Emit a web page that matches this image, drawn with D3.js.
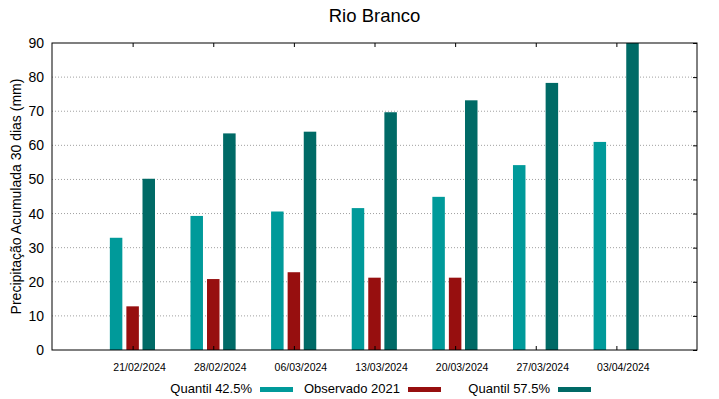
<!DOCTYPE html>
<html>
<head>
<meta charset="utf-8">
<script src="https://cdn.jsdelivr.net/npm/d3@7"></script>
<style>
  body { margin: 0; background: #fff; }
  text { font-family: "Liberation Sans", Arial, sans-serif; fill: #000; }
</style>
</head>
<body>
<svg id="chart" width="719" height="399"></svg>
<script>
const dates = ['21/02/2024', '28/02/2024', '06/03/2024', '13/03/2024', '20/03/2024', '27/03/2024', '03/04/2024'];
const quantil425 = [32.9, 39.3, 40.6, 41.6, 44.9, 54.2, 61.0];
const observado2021 = [12.8, 20.8, 22.8, 21.2, 21.2, null, null];
const quantil575 = [50.2, 63.5, 64.0, 69.7, 73.2, 78.3, 90.0];
const yTicks = [0, 10, 20, 30, 40, 50, 60, 70, 80, 90];

const width = 719;
const height = 399;
const margin = { top: 43, right: 22, bottom: 49, left: 52 };

const svg = d3.select('#chart');

const x = d3.scaleLinear()
  .domain([0, dates.length + 1])
  .range([margin.left, width - margin.right]);

const y = d3.scaleLinear()
  .domain([0, 90])
  .range([height - margin.bottom, margin.top]);

const series = [
  { name: 'Quantil 42.5%', values: quantil425, color: '#009a9a', offset: -0.205 },
  { name: 'Observado 2021', values: observado2021, color: '#970f0f', offset: 0 },
  { name: 'Quantil 57.5%', values: quantil575, color: '#006a66', offset: 0.2 }
];
const barW = 0.155;

// grid
svg.append('g')
  .selectAll('line')
  .data(yTicks.filter(d => d > 0 && d < 90))
  .join('line')
  .attr('x1', x(0))
  .attr('x2', x(dates.length + 1))
  .attr('y1', d => y(d))
  .attr('y2', d => y(d))
  .attr('stroke', '#a0a0a0')
  .attr('stroke-width', 1)
  .attr('stroke-dasharray', '1,2');

// bars
series.forEach(s => {
  svg.append('g')
    .selectAll('rect')
    .data(s.values.map((v, i) => ({ v, i })).filter(d => d.v !== null))
    .join('rect')
    .attr('x', d => x(d.i + 1 + s.offset - barW / 2))
    .attr('width', x(barW) - x(0))
    .attr('y', d => y(d.v))
    .attr('height', d => y(0) - y(d.v))
    .attr('fill', s.color);
});

// axes with inward ticks
svg.append('g')
  .attr('transform', `translate(${margin.left},0)`)
  .call(d3.axisLeft(y).tickValues(yTicks).tickSize(0).tickPadding(8))
  .call(g => g.select('.domain').remove())
  .call(g => g.selectAll('text').attr('font-size', 14).attr('font-family', '"Liberation Sans", Arial, sans-serif'));

svg.append('g')
  .attr('transform', `translate(${width - margin.right},0)`)
  .call(d3.axisRight(y).tickValues(yTicks).tickSize(-4).tickFormat(''))
  .call(g => g.select('.domain').remove());

svg.append('g')
  .attr('transform', `translate(0,${margin.top})`)
  .call(d3.axisTop(x).tickValues(d3.range(1, dates.length + 1)).tickSize(-4).tickFormat(''))
  .call(g => g.select('.domain').remove());

svg.append('g')
  .attr('transform', `translate(0,${height - margin.bottom})`)
  .call(d3.axisBottom(x).tickValues(d3.range(1, dates.length + 1)).tickSize(-4).tickFormat(''))
  .call(g => g.select('.domain').remove());

// x labels (shifted right like the original)
svg.append('g')
  .selectAll('text')
  .data(dates)
  .join('text')
  .attr('x', (d, i) => x(i + 1) + 7)
  .attr('y', height - margin.bottom + 21)
  .attr('text-anchor', 'middle')
  .attr('font-size', 10.5)
  .text(d => d);

// frame
svg.append('rect')
  .attr('x', x(0))
  .attr('y', y(90))
  .attr('width', x(dates.length + 1) - x(0))
  .attr('height', y(0) - y(90))
  .attr('fill', 'none')
  .attr('stroke', '#000')
  .attr('stroke-width', 1);

// title
svg.append('text')
  .attr('x', (x(0) + x(dates.length + 1)) / 2)
  .attr('y', 22)
  .attr('text-anchor', 'middle')
  .attr('font-size', 18.5)
  .text('Rio Branco');

// y label
svg.append('text')
  .attr('transform', `translate(21,${(y(0) + y(90)) / 2}) rotate(-90)`)
  .attr('text-anchor', 'middle')
  .attr('font-size', 14)
  .text('Precipitação Acumulada 30 dias (mm)');

// legend
const legendX = [252, 400, 550];
const legend = svg.append('g');
series.forEach((s, i) => {
  legend.append('text')
    .attr('x', legendX[i])
    .attr('y', 393)
    .attr('text-anchor', 'end')
    .attr('font-size', 13)
    .text(s.name);
  legend.append('rect')
    .attr('x', legendX[i] + 8)
    .attr('y', 387)
    .attr('width', 33)
    .attr('height', 5)
    .attr('fill', s.color);
});
</script>
</body>
</html>
